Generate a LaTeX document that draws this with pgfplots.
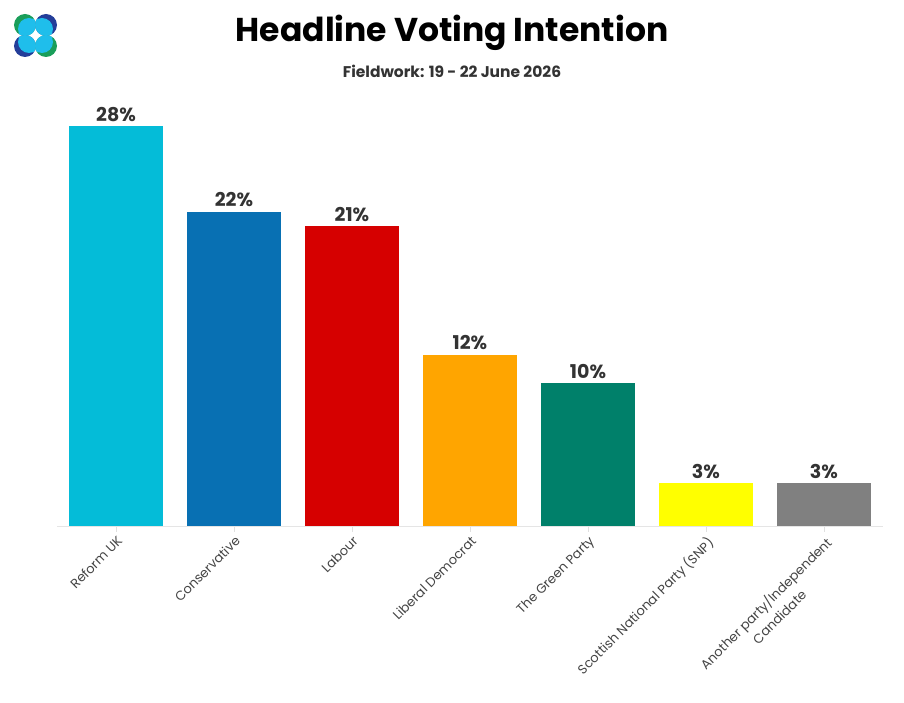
\documentclass[border=0pt]{standalone}
\usepackage{fontspec}
\setmainfont{Poppins}
\usepackage{pgfplots}
\pgfplotsset{compat=1.18}
\definecolor{reform}{HTML}{04BCD8}
\definecolor{con}{HTML}{0870B3}
\definecolor{lab}{HTML}{D60000}
\definecolor{ld}{HTML}{FFA500}
\definecolor{grn}{HTML}{00806A}
\definecolor{snp}{HTML}{FFFF00}
\definecolor{oth}{HTML}{808080}
\definecolor{lgreen}{HTML}{1A9E5A}
\definecolor{lblue}{HTML}{243E99}
\definecolor{lsky}{HTML}{1FBEEB}
\definecolor{txt}{HTML}{333333}
\definecolor{ticktxt}{HTML}{444444}
\begin{document}
\begin{tikzpicture}
\begin{axis}[
  at={(0pt,0pt)}, anchor=south west,
  scale only axis, width=826pt, height=400pt,
  xmin=-0.5, xmax=6.5, ymin=0, ymax=28,
  axis x line*=bottom, axis y line=none,
  x axis line style={draw=black!10, line width=1pt},
  xtick={0,...,6},
  xticklabels={Reform UK,Conservative,Labour,Liberal Democrat,The Green Party,Scottish National Party (SNP),{Another party/Independent\\[3pt]Candidate}},
  xtick style={draw=black!12, line width=1pt},
  tick align=outside, major tick length=6pt,
  x tick label style={rotate=45, anchor=north east, align=center, font=\fontsize{13}{16}\selectfont, text=ticktxt, inner sep=2pt},
  ybar, bar width=94pt, bar shift=0pt,
  clip=false,
  /pgf/number format/assume math mode=true,
  nodes near coords={\pgfmathprintnumber{\pgfplotspointmeta}\%},
  every node near coord/.append style={font=\bfseries\fontsize{19}{21}\selectfont, text=txt, yshift=1pt},
]
\addplot[fill=reform, draw=none] coordinates {(0,28)};
\addplot[fill=con, draw=none] coordinates {(1,22)};
\addplot[fill=lab, draw=none] coordinates {(2,21)};
\addplot[fill=ld, draw=none] coordinates {(3,12)};
\addplot[fill=grn, draw=none] coordinates {(4,10)};
\addplot[fill=snp, draw=none] coordinates {(5,3)};
\addplot[fill=oth, draw=none] coordinates {(6,3)};
\end{axis}
\path[use as bounding box] (-57pt,-176pt) rectangle (847pt,526pt);
% logo (top-left corner of picture is (-57pt,526pt))
\begin{scope}[shift={(-57pt,526pt)}, x=1pt, y=1pt]
\fill[lgreen] (25,-25) circle (11);
\fill[lblue] (46,-25) circle (11);
\fill[lblue] (25,-46) circle (11);
\fill[lgreen] (46,-46) circle (11);
\begin{scope}
\clip (25,-25) circle (11);
\fill[lsky] (29,-29) circle (11);
\end{scope}
\begin{scope}
\clip (46,-25) circle (11);
\fill[lsky] (42,-29) circle (11);
\end{scope}
\begin{scope}
\clip (25,-46) circle (11);
\fill[lsky] (29,-42) circle (11);
\end{scope}
\begin{scope}
\clip (46,-46) circle (11);
\fill[lsky] (42,-42) circle (11);
\end{scope}
\node[font=\bfseries\fontsize{33}{36}\selectfont, text=black] at (452,-33) {Headline Voting Intention};
\node[font=\bfseries\fontsize{15.5}{17}\selectfont, text=txt] at (452,-71) {Fieldwork: 19 - 22 June 2026};
\end{scope}
\end{tikzpicture}
\end{document}
